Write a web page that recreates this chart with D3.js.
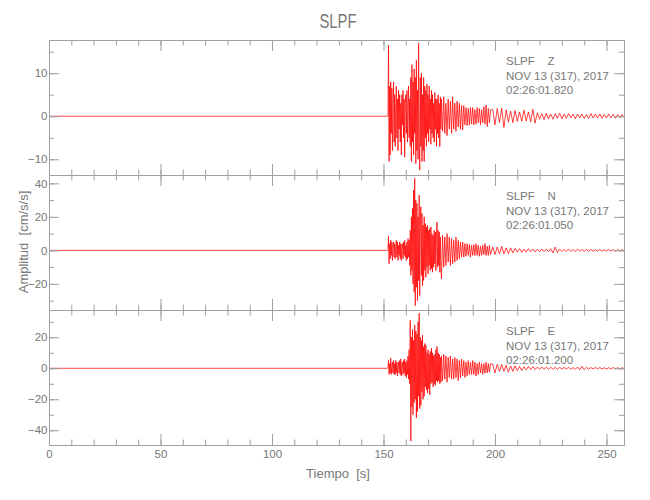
<!DOCTYPE html>
<html><head><meta charset="utf-8">
<script src="https://cdn.jsdelivr.net/npm/d3@7"></script>
<style>
body{margin:0;background:#fff;}
svg{display:block;font-family:"Liberation Sans",Arial,sans-serif;}
.ax .domain,.ax .tick line{stroke:#a0a0a0;stroke-width:1;}
.ax text{fill:#777;font-size:11.5px;font-family:"Liberation Sans",Arial,sans-serif;}
.lbl{fill:#777;white-space:pre;}
</style></head><body><svg id="c" width="650" height="500"></svg>
<script>
// ---------- data ----------
const titleText = "SLPF";
const stationLabels = ["SLPF    Z", "SLPF    N", "SLPF    E"];
const dateLabel = "NOV 13 (317), 2017";
const startTimes = ["02:26:01.820", "02:26:01.050", "02:26:01.200"];
const xLabel = "Tiempo  [s]";
const yLabel = "Amplitud  [cm/s/s]";

const xDomain = [0, 257.85];
const xMajorTicks = [0, 50, 100, 150, 200, 250];
const xMinorTicks = [0,10,20,30,40,50,60,70,80,90,100,110,120,130,140,150,160,170,180,190,200,210,220,230,240,250];

const yDomains = [[-13.65, 17.7], [-35.6, 45], [-49.5, 37.6]];
const yMajorTicks = [[-10, 0, 10], [-20, 0, 20, 40], [-40, -20, 0, 20]];
const yMinorTicks = [[-10, -5, 0, 5, 10, 15], [-30, -20, -10, 0, 10, 20, 30, 40], [-40, -30, -20, -10, 0, 10, 20, 30]];

// quiet pre-event trace
const preTimes = [0, 151.75];
const preValues = [0, 0];

// strong motion: samples every 0.25 s from 152 s to 176 s
const denseStart = 152, denseStep = 0.25;
const zDense = [0.3,16.5,-10.5,7, -9,8,-4,6.5, -8,3,8,-6, 5,-7,2,7, -5,4,-8,6, -3,5,-6,3, -9,5,-2,6, -5,4,-9.5,3,
  5,-4,6,-6, 2,7,-5,4, -7,9,-10.5,12, -6,8,-9,11, -4,9,-11,13, -8,6,-10,17, -6,-12.5,9,-7, 10,-10.5,5,-8,
  9,-10.5,7,-5, 6,-7,7.5,-4, 5,-6,7,-3, 4,-6.5,6,-4, 5,-5,3,-6, 5.5,-3,4,-7, 4,-4,5,-5, 3,-7,4.5,-3, 4];
const nDense = [0.5,8.5,-8,4, -5,6,-3,5, -6,3,5,-4, 4,-5,2,6, -4,5,-6,3, -3,5,-5,4, -6,3,4,-5, 5,-3,6,-4,
  3,-6,5,-5, 7,-4,6,-9, 12,-15,20,-12, 25,-20,36,-25, 43,-33,30,-22, 28,-30,20,-18, 33,-27,18,26, -15,22,-21,15,
  -18,20,-12,16, -16,14,-10,15, -14,12,-9,13, -12,14,-11,10, -13,9,-10,12, -8,11,-12,9, 17,-10,12,-9, 11,-13,8,-10, -17];
const eDense = [0.5,5,-4,3, -3,6.5,-4,2, 4,-3,5,-4, 3,-4,5,-3, 4,-5,2,4, -3,5,-4,6, -5,3,4,-4, 5,-3,6,-5,
  4,-6,5,-4, 8,-7,12,-10, 31,-47,20,-25, 25,-30,18,-22, 28,-20,24,-32, 22,-28,30,-18, 35.5,-26,20,-24, 18,-15,21.5,-20,
  14,-18,16,-12, 15,-14,10,-16, 12,-13,9,-17, 11,-10,13,-9, 10,-12,8,-10, 9,-11,12,-8, 14,-9,10,-8, 9,-10,7,-9, 8];

// decaying part: samples every 0.5 s from 176.5 s to 198 s
const midStart = 176.5, midStep = 0.5;
const zMid = [-3.5,4.5,-4,3,-4.5,4,-3,3.5,-4,4.5,-3,3,-3.5,3.5,-2.5,3,-3,2.5,-3.2,2.5,-2,2,
  -2.2,1.8,-2,2,-1.8,2,-2,1.5,-1.8,2,-1.5,1.8,-2,1.5,-1.5,2.2,-1.8,2.6,-2.4,1.8,-1.5,1.5];
const nMid = [9,-10,8,-9,10,-7,8,-9,7,-8,6,-7,8,-6,6,-5,5,-4,5,-4,4,-3.5,
  4,-3,3.5,-4,3,-3,3.5,-3,4,-3,3,-3.5,2.5,-3,3,-2.5,4,-3,2.5,-3,3,-2.5];
const eMid = [-8,9,-7,8,-9,7,-6,8,-7,6,-7,7,-6,6,-8,5,-6,6,-5,5,-6,4,
  -5,5,-4,4,-4,5,-4,4,-5,3,-4,4,-3,3,-4,3,-3,4,-3,3,-2.5,3];

// coda: samples every 1 s from 199 s
const codaStart = 199, codaStep = 1;
const zCoda = [1.5,-2,1.8,-1.5,1.9,-2.6,1.5,-1.4,1.2,-1.5,1.3,-1.2,1,-1.2,1.4,-1.1,1,-1.3,1.6,-1.6,0.8,-0.7,0.6,-0.8,0.7,-0.6,0.5,-0.7,0.6,-0.5,0.7,-0.6,0.5,-0.5,0.6,-0.4,0.5,-0.6,0.5,-0.4,0.5,-0.5,0.4,-0.5,0.6,-0.4,0.5,-0.4,0.5,-0.5,0.4,-0.4,0.5,-0.4,0.4,-0.5,0.4,-0.4,0.4,-0.3,0.3];
const nCoda = [2,-2.5,2,-2,2.5,-2,1.5,-2,1.5,-1.5,1.2,-1,1,-1.2,0.8,-1,1,-0.8,0.8,-1,0.7,-0.8,0.7,-0.6,0.7,-0.8,1,-1.5,2,-1.2,0.8,-0.7,0.6,-0.7,0.8,-0.6,0.5,-0.6,0.7,-0.5,0.5,-0.6,0.5,-0.5,0.6,-0.5,0.4,-0.5,0.6,-0.5,0.4,-0.5,0.5,-0.4,0.5,-0.6,0.5,-0.4,0.5,-0.4,0.3];
const eCoda = [2.5,-3,2.5,-2,2.5,-2,2,-2.5,1.5,-2,1.5,-1.5,1.2,-1.5,1,-1,1.2,-0.8,1,-0.8,0.8,-0.7,0.8,-0.6,0.7,-0.6,0.7,-0.6,0.6,-0.7,0.6,-0.5,0.6,-0.5,0.6,-0.6,0.5,-0.7,0.8,-1,1.2,-0.9,0.6,-0.5,0.5,-0.4,0.5,-0.4,0.5,-0.4,0.4,-0.5,0.4,-0.4,0.5,-0.4,0.4,-0.5,0.4,-0.3,0.3];

const denses = [zDense, nDense, eDense];
const mids = [zMid, nMid, eMid];
const codas = [zCoda, nCoda, eCoda];

// ---------- drawing ----------
const svg = d3.select("#c");
const panelTop = 40, panelH = 135;
const x = d3.scaleLinear().domain(xDomain).range([49, 624]);

svg.append("text").attr("class","lbl").attr("x",338).attr("y",28)
  .attr("text-anchor","middle").style("font-size","20px")
  .style("font-family",'"Liberation Sans Narrow","Liberation Sans",sans-serif')
  .attr("textLength",37).attr("lengthAdjust","spacingAndGlyphs").text(titleText);

function seriesPoints(i){
  const pts = preTimes.map((t,k)=>[t, preValues[k]]);
  denses[i].forEach((v,k)=>pts.push([denseStart + k*denseStep, v]));
  mids[i].forEach((v,k)=>pts.push([midStart + k*midStep, v]));
  codas[i].forEach((v,k)=>pts.push([codaStart + k*codaStep, v]));
  return pts;
}

for (let i = 0; i < 3; i++) {
  const top = panelTop + i*panelH, bot = top + panelH;
  const y = d3.scaleLinear().domain(yDomains[i]).range([bot, top]);
  const g = svg.append("g");
  const [x0, x1] = x.range();

  g.append("clipPath").attr("id","cp"+i).append("rect")
    .attr("x",x0).attr("y",top).attr("width",x1-x0).attr("height",panelH);

  const line = d3.line().x(d=>x(d[0])).y(d=>y(d[1]));
  g.append("path").datum(seriesPoints(i)).attr("clip-path",`url(#cp${i})`)
    .attr("d",line).attr("fill","none").attr("stroke","#ff0000").attr("stroke-width",0.75);

  // x axes (bottom & top of each panel), ticks inward
  g.append("g").attr("class","ax").attr("transform",`translate(0,${bot})`)
    .call(d3.axisBottom(x).tickValues(xMinorTicks).tickSize(-5.5).tickSizeOuter(0).tickFormat(()=>""));
  g.append("g").attr("class","ax").attr("transform",`translate(0,${bot})`)
    .call(d3.axisBottom(x).tickValues(xMajorTicks).tickSize(-11).tickSizeOuter(0).tickPadding(5)
      .tickFormat(i===2 ? d3.format("d") : ()=>""));
  g.append("g").attr("class","ax").attr("transform",`translate(0,${top})`)
    .call(d3.axisTop(x).tickValues(xMinorTicks).tickSize(-5.5).tickSizeOuter(0).tickFormat(()=>""));
  g.append("g").attr("class","ax").attr("transform",`translate(0,${top})`)
    .call(d3.axisTop(x).tickValues(xMajorTicks).tickSize(-11).tickSizeOuter(0).tickFormat(()=>""));

  // y axes left & right
  g.append("g").attr("class","ax").attr("transform",`translate(${x0},0)`)
    .call(d3.axisLeft(y).tickValues(yMinorTicks[i]).tickSize(-5).tickSizeOuter(0).tickFormat(()=>""));
  g.append("g").attr("class","ax").attr("transform",`translate(${x0},0)`)
    .call(d3.axisLeft(y).tickValues(yMajorTicks[i]).tickSize(-10).tickSizeOuter(0).tickPadding(1.5)
      .tickFormat(d3.format("d")));
  g.append("g").attr("class","ax").attr("transform",`translate(${x1},0)`)
    .call(d3.axisRight(y).tickValues(yMinorTicks[i]).tickSize(-5).tickSizeOuter(0).tickFormat(()=>""));
  g.append("g").attr("class","ax").attr("transform",`translate(${x1},0)`)
    .call(d3.axisRight(y).tickValues(yMajorTicks[i]).tickSize(-10).tickSizeOuter(0).tickFormat(()=>""));

  // station annotation
  [stationLabels[i], dateLabel, startTimes[i]].forEach((s,k)=>{
    g.append("text").attr("class","lbl").attr("x",506).attr("y",top+25+k*14.5)
      .style("font-size","11.5px").text(s);
  });
}

svg.append("text").attr("class","lbl").attr("x",338).attr("y",478)
  .attr("text-anchor","middle").style("font-size","13px").text(xLabel);
svg.append("text").attr("class","lbl")
  .attr("transform","translate(28,242) rotate(-90)")
  .attr("text-anchor","middle").style("font-size","13px").text(yLabel);
</script></body></html>
